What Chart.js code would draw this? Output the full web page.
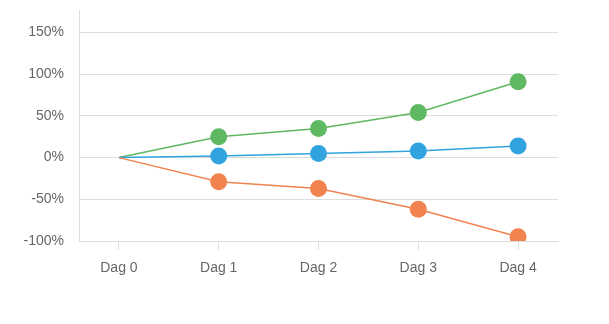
<!DOCTYPE html>
<html>
<head>
<meta charset="utf-8">
<script src="https://cdn.jsdelivr.net/npm/chart.js@4"></script>
<style>
  html, body { margin: 0; padding: 0; background: #fff; }
  #wrap { width: 609px; height: 324px; }
</style>
</head>
<body>
<div id="wrap"><canvas id="myChart" width="609" height="324"></canvas></div>
<script>
const labels = ['Dag 0', 'Dag 1', 'Dag 2', 'Dag 3', 'Dag 4'];
const greenValues = [0, 25, 35, 54, 91];
const blueValues = [0, 2, 5, 8, 14];
const orangeValues = [0, -29, -37, -62, -95];
const yTicks = [-100, -50, 0, 50, 100, 150];

function toPoints(values) {
    return values.map((v, i) => ({ x: i, y: v }));
}

function series(values, color) {
    return {
        data: toPoints(values),
        borderColor: color,
        backgroundColor: color,
        borderWidth: 1.5,
        pointRadius: values.map((v, i) => i === 0 ? 0 : 8.5),
        pointHoverRadius: 8.5,
        pointBorderWidth: 0,
        tension: 0
    };
}

const ctx = document.getElementById('myChart').getContext('2d');
new Chart(ctx, {
    type: 'line',
    data: {
        datasets: [
            series(orangeValues, '#f0834f'),
            series(blueValues, '#31a4e0'),
            series(greenValues, '#5fb862')
        ]
    },
    options: {
        responsive: false,
        animation: false,
        layout: { padding: { top: 10, right: 51, left: 0, bottom: 0 } },
        plugins: { legend: { display: false }, tooltip: { enabled: false } },
        scales: {
            x: {
                type: 'linear',
                min: -0.4,
                max: 4.4,
                afterBuildTicks: s => { s.ticks = labels.map((l, i) => ({ value: i })); },
                afterFit: s => {
                    s.height = 83;
                    s.paddingLeft = 0;
                    s.paddingRight = 0;
                },
                ticks: {
                    callback: v => labels[v],
                    color: '#666',
                    font: { family: 'Liberation Sans', size: 14 },
                    padding: 10,
                    maxRotation: 0
                },
                grid: { drawOnChartArea: false, tickLength: 9, color: '#ddd' },
                border: { color: '#ddd' }
            },
            y: {
                min: -100,
                max: 177,
                afterBuildTicks: s => { s.ticks = yTicks.map(v => ({ value: v })); },
                afterFit: s => {
                    s.width = 79;
                    s.paddingTop = 0;
                    s.paddingBottom = 0;
                },
                ticks: {
                    callback: v => v + '%',
                    color: '#666',
                    font: { family: 'Liberation Sans', size: 14 },
                    padding: 15
                },
                grid: { drawTicks: false, color: '#ddd' },
                border: { color: '#ddd' }
            }
        }
    }
});
</script>
</body>
</html>
